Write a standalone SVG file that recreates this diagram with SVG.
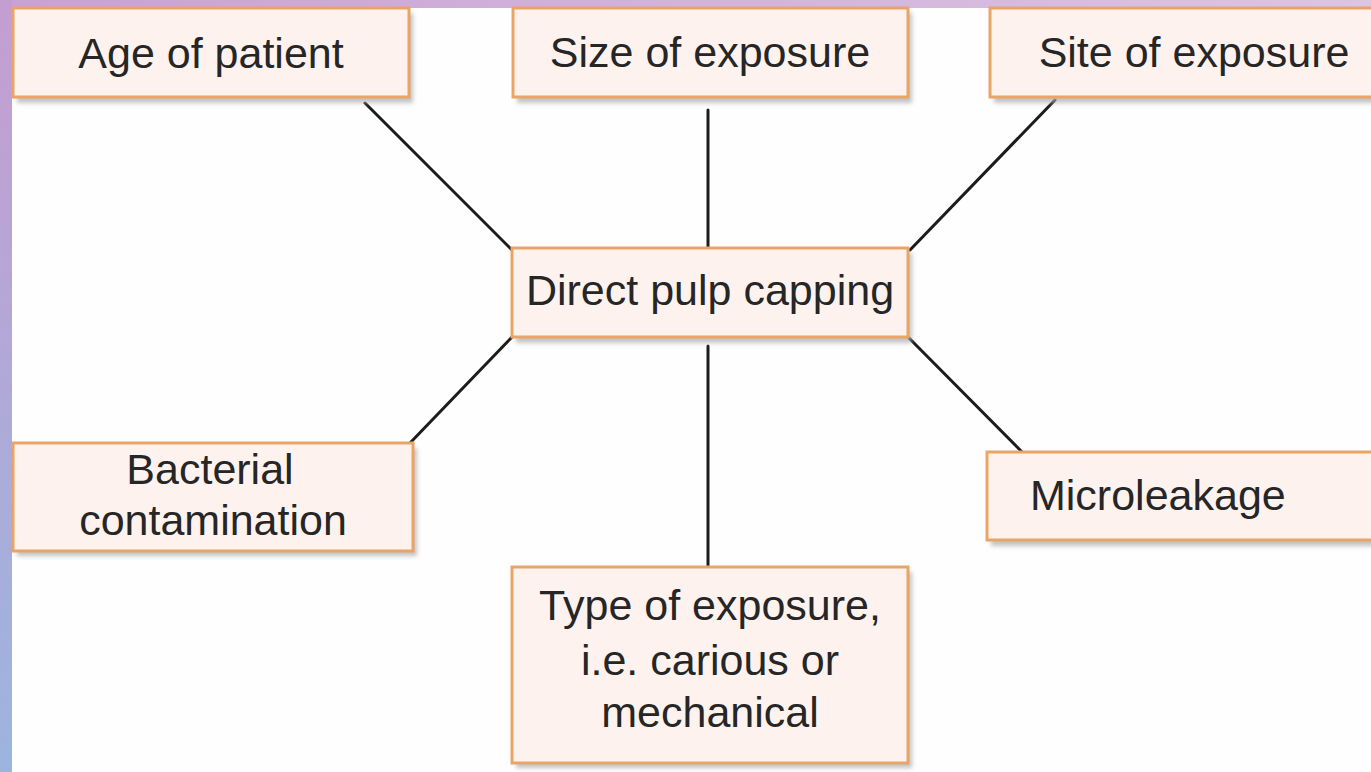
<svg xmlns="http://www.w3.org/2000/svg" width="1371" height="772" viewBox="0 0 1371 772">
<defs>
<linearGradient id="leftStrip" x1="0" y1="0" x2="0" y2="1">
<stop offset="0" stop-color="#c59ed1"/>
<stop offset="1" stop-color="#9bb4de"/>
</linearGradient>
<linearGradient id="topStrip" x1="0" y1="0" x2="1" y2="0">
<stop offset="0" stop-color="#c8a2d2"/>
<stop offset="1" stop-color="#dcc4e3"/>
</linearGradient>
<filter id="shadow" x="-10%" y="-10%" width="120%" height="130%">
<feGaussianBlur stdDeviation="2"/>
</filter>
</defs>
<style>
.box{fill:#fdf2ee;stroke:#e9a466;stroke-width:3}
.sh{fill:#a9aaac;opacity:0.7;filter:url(#shadow)}
.t{font-family:"Liberation Sans",Arial,sans-serif;font-size:43px;fill:#262626;text-anchor:middle}
.c{stroke:#1c1c1c;stroke-width:3;fill:none;stroke-linecap:round}
</style>
<rect x="0" y="0" width="1371" height="772" fill="#fefefe"/>
<rect x="0" y="0" width="1371" height="8" fill="url(#topStrip)"/>
<rect x="0" y="0" width="12" height="772" fill="url(#leftStrip)"/>

<g id="connectors">
<line class="c" x1="365" y1="103" x2="512" y2="250"/>
<line class="c" x1="708" y1="110" x2="708" y2="248"/>
<line class="c" x1="1055" y1="100" x2="910" y2="250"/>
<line class="c" x1="512" y1="337" x2="410" y2="443"/>
<line class="c" x1="708" y1="346" x2="708" y2="567"/>
<line class="c" x1="908" y1="337" x2="1022" y2="452"/>
</g>

<g id="node-age">
<rect class="sh" x="17" y="13" width="396" height="90"/>
<rect class="box" x="13" y="8" width="396" height="89"/>
<text class="t" x="211" y="68">Age of patient</text>
</g>
<g id="node-size">
<rect class="sh" x="517" y="13" width="395" height="90"/>
<rect class="box" x="513" y="8" width="395" height="89"/>
<text class="t" x="710" y="67">Size of exposure</text>
</g>
<g id="node-site">
<rect class="sh" x="994" y="13" width="390" height="90"/>
<rect class="box" x="990" y="8" width="390" height="89"/>
<text class="t" x="1194" y="67">Site of exposure</text>
</g>
<g id="node-center">
<rect class="sh" x="516" y="253" width="396" height="90"/>
<rect class="box" x="512" y="248" width="396" height="89"/>
<text class="t" x="710" y="305">Direct pulp capping</text>
</g>
<g id="node-bacterial">
<rect class="sh" x="17" y="448" width="400" height="108"/>
<rect class="box" x="13" y="443" width="400" height="108"/>
<text class="t" x="210" y="484">Bacterial</text>
<text class="t" x="213" y="535">contamination</text>
</g>
<g id="node-micro">
<rect class="sh" x="991" y="457" width="390" height="89"/>
<rect class="box" x="987" y="452" width="390" height="88"/>
<text class="t" x="1030" y="510" style="text-anchor:start">Microleakage</text>
</g>
<g id="node-type">
<rect class="sh" x="516" y="572" width="396" height="196"/>
<rect class="box" x="512" y="567" width="396" height="196"/>
<text class="t" x="710" y="620">Type of exposure,</text>
<text class="t" x="710" y="675">i.e. carious or</text>
<text class="t" x="710" y="727">mechanical</text>
</g>
</svg>
